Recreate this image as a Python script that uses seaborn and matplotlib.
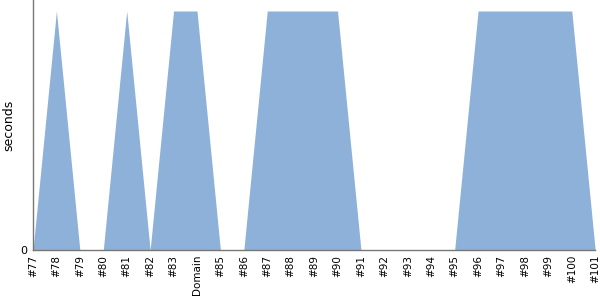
import matplotlib
matplotlib.use("Agg")
import matplotlib.pyplot as plt
import seaborn as sns
import numpy as np

labels = ["#77", "#78", "#79", "#80", "#81", "#82", "#83", "Domain", "#85", "#86",
          "#87", "#88", "#89", "#90", "#91", "#92", "#93", "#94", "#95", "#96",
          "#97", "#98", "#99", "#100", "#101"]
values = [0, 1, 0, 0, 1, 0, 1, 1, 0, 0,
          1, 1, 1, 1, 0, 0, 0, 0, 0, 1,
          1, 1, 1, 1, 0]

sns.set_style("white")
plt.rcParams['font.family'] = ['DejaVu Sans']

fig = plt.figure(figsize=(6, 3), dpi=100)
ax = fig.add_axes([0.055, 0.1667, 0.937, 0.8333])
x = np.arange(len(labels))
sns.lineplot(x=x, y=values, ax=ax, color="#8EB1DA", linewidth=0)
ax.fill_between(x, values, 0, color="#8EB1DA", linewidth=0)
ax.set_xlim(0, len(labels) - 1)
ax.set_ylim(0, 1.046)
ax.set_xticks(x)
ax.set_xticklabels(labels, rotation=90, fontsize=7.5, color="black")
ax.set_yticks([0])
ax.set_yticklabels(["0"], fontsize=8, color="black")
ax.set_ylabel("seconds", fontsize=9, color="black")
ax.tick_params(axis="x", length=0, pad=3.5)
ax.tick_params(axis="y", length=0, pad=4)
for s in ["top", "right"]:
    ax.spines[s].set_visible(False)
for s in ["left", "bottom"]:
    ax.spines[s].set_color("#777777")
    ax.spines[s].set_linewidth(1)
fig.savefig("out.png", dpi=100)
